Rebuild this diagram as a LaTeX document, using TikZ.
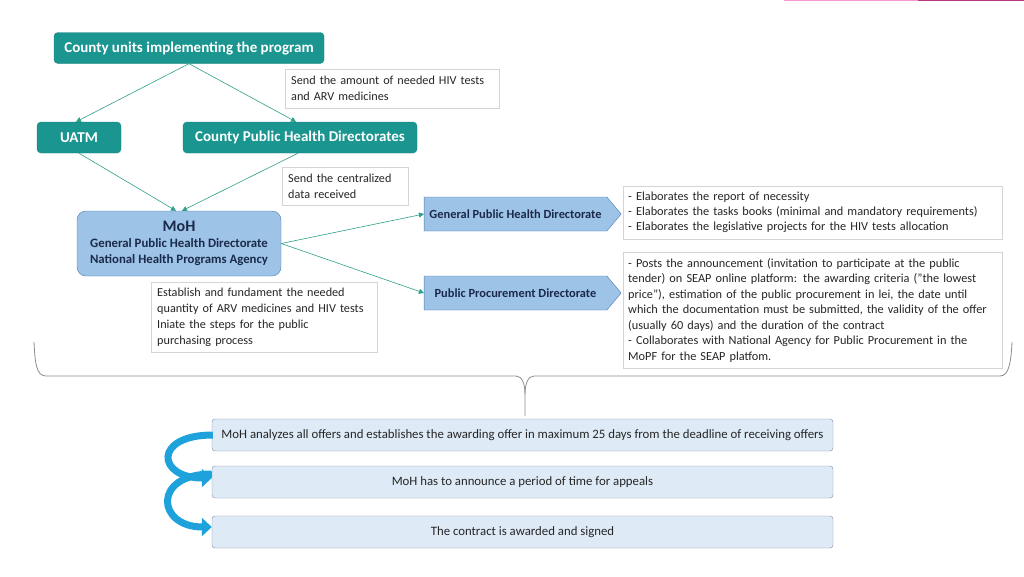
\documentclass[tikz,border=0pt]{standalone}
\usepackage{fontspec}
\setmainfont{Carlito}
\usetikzlibrary{shapes.symbols,arrows.meta}
\hyphenpenalty=10000
\definecolor{tealbox}{HTML}{1A958F}
\definecolor{tealline}{HTML}{2E9E8A}
\definecolor{mohfill}{HTML}{9DC3E6}
\definecolor{mohline}{HTML}{4A7DB5}
\definecolor{navytext}{HTML}{1B2A4A}
\definecolor{stepfill}{HTML}{DEEAF6}
\definecolor{stepline}{HTML}{7F8FA6}
\definecolor{notegray}{HTML}{D4D4D4}
\definecolor{curlblue}{HTML}{1EA2DC}
\definecolor{bracegray}{HTML}{8C8C8C}
\tikzset{
    TB/.style ={rectangle, rounded corners=4pt, fill=tealbox, draw=tealbox!85!black, text=white,
                font=\bfseries\fontsize{15}{17}\selectfont, minimum height=31pt, inner sep=0pt},
    NB/.style ={rectangle, draw=notegray, fill=white, align=left, anchor=north west, text=black!85,
                font=\fontsize{12.2}{16}\selectfont, inner xsep=6pt, inner ysep=0pt},
    MB/.style ={rectangle, rounded corners=9pt, fill=mohfill, draw=mohline, text=navytext, align=center,
                font=\bfseries\fontsize{12.8}{16}\selectfont, minimum width=204pt, minimum height=65pt},
    SB/.style ={signal, signal to=east, signal pointer angle=100, fill=mohfill, draw=mohline, text=navytext,
                font=\bfseries\fontsize{12.4}{14}\selectfont, minimum width=197pt, minimum height=34pt,
                inner xsep=1pt},
    BB/.style ={rectangle, rounded corners=3pt, fill=stepfill, draw=stepline, text=black!85,
                font=\fontsize{12.8}{14}\selectfont, minimum width=621pt, minimum height=32pt},
    AR/.style ={tealline, line width=0.6pt, -{Triangle[length=5pt,width=5pt]}},
    CA/.style ={curlblue, line width=7pt, -{Triangle[length=10pt,width=18pt]}}}

\begin{document}
\begin{tikzpicture}[x=1pt,y=-1pt]
    \useasboundingbox (0,0) rectangle (1024,576);
    % thin line at the top edge
    \draw[magenta!40, line width=1.2pt] (784,0.6) -- (918,0.6);
    \draw[magenta!70!black, line width=1.2pt] (918,0.6) -- (1024,0.6);
    % upper part
    \node[TB, minimum width=270pt] (county) at (189,48) {County units implementing the program};
    \node[TB, minimum width=84pt] (uatm) at (79,137.5) {UATM};
    \node[TB, minimum width=234pt] (cphd) at (300,137.5) {County Public Health Directorates};
    \node[NB, text width=202pt, minimum height=39pt] (send1) at (285,69)
        {Send the amount of needed HIV tests\\and ARV medicines};
    \node[NB, text width=114pt, minimum height=38pt] (send2) at (282,167)
        {Send the centralized\\data received};
    \node[MB] (moh) at (179,243.5)
        {{\fontsize{16}{17}\selectfont MoH}\\General Public Health Directorate\\National Health Programs Agency};
    \node[NB, text width=214pt, minimum height=70pt] (estab) at (151,282)
        {Establish and fundament the needed\\quantity of ARV medicines and HIV tests\\Iniate the steps for the public\\purchasing process};
    \node[SB] (gphd) at (515.5,214) {General Public Health Directorate};
    \node[SB] (ppd) at (515.5,293) {Public Procurement Directorate};
    \node[NB, text width=369pt, inner xsep=5pt, minimum height=53pt, font=\fontsize{12.3}{15}\selectfont] (tasks) at (623,186)
        {- Elaborates the report of necessity\\- Elaborates the tasks books (minimal and mandatory requirements)\\- Elaborates the legislative projects for the HIV tests allocation};
    \node[NB, text width=369pt, inner xsep=5pt, minimum height=116pt, font=\fontsize{12.3}{15.5}\selectfont] (posts) at (623,252)
        {- Posts the announcement (invitation to participate at the public\\tender) on SEAP online platform: the awarding criteria (”the lowest\\price”), estimation of the public procurement in lei, the date until\\which the documentation must be submitted, the validity of the offer\\(usually 60 days) and the duration of the contract\\- Collaborates with National Agency for Public Procurement in the\\MoPF for the SEAP platfom.};
    \draw[AR] (county.south) -- ([xshift=-3pt]uatm.north);
    \draw[AR] (county.south) -- ([xshift=-4pt]cphd.north);
    \draw[AR] (uatm.south) -- ([xshift=-3pt]moh.north);
    \draw[AR] ([xshift=-2pt]cphd.south) -- ([xshift=3pt]moh.north);
    \draw[AR] (moh.east) -- (gphd.west);
    \draw[AR] (moh.east) -- (ppd.west);
    % brace
    \draw[bracegray, line width=0.8pt] (34,342) .. controls (35,362) and (36,376) .. (46,376) -- (516,376)
        .. controls (522,376) and (525,384) .. (525,394) -- (525,416);
    \draw[bracegray, line width=0.8pt] (1012,342) .. controls (1011,362) and (1009,376) .. (1000,376) -- (534,376)
        .. controls (528,376) and (525,384) .. (525,394);
    % lower part
    \node[BB] (offers) at (522.5,435) {MoH analyzes all offers and establishes the awarding offer in maximum 25 days from the deadline of receiving offers};
    \node[BB] (appeals) at (522.5,482) {MoH has to announce a period of time for appeals};
    \node[BB] (signed) at (522.5,532) {The contract is awarded and signed};
    \draw[CA] ([xshift=1pt]offers.west) .. controls +(-60,0) and +(-55,0) .. ([yshift=4pt]appeals.west);
    \draw[CA] ([yshift=8pt]appeals.west) .. controls +(-60,0) and +(-55,0) .. ([yshift=5pt]signed.west);
\end{tikzpicture}
\end{document}
